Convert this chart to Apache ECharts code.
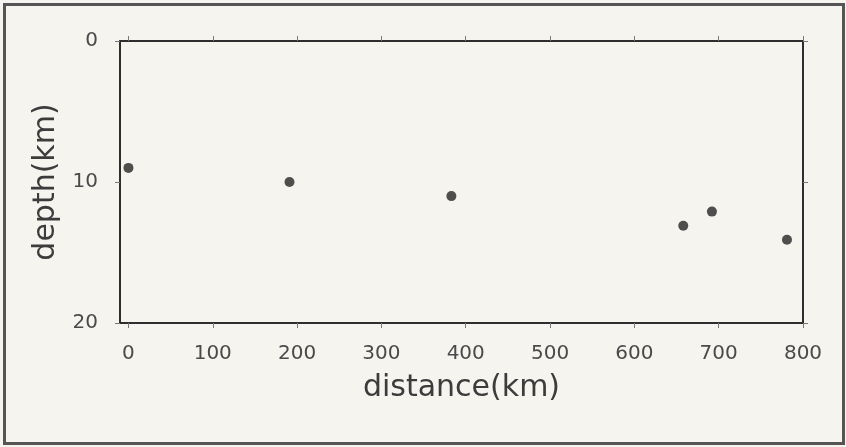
<!DOCTYPE html>
<html>
<head>
<meta charset="utf-8">
<script src="https://cdn.jsdelivr.net/npm/echarts@6/dist/echarts.min.js"></script>
<style>
html,body{margin:0;padding:0;background:#f6f4ef;}
#chart{width:846px;height:447px;}
</style>
</head>
<body>
<div id="chart"></div>
<script>
// Data
const distanceKm = [0, 191, 383, 658, 692, 781];
const depthKm = [9.0, 10.0, 11.0, 13.1, 12.1, 14.1];
const xTickValues = [0, 100, 200, 300, 400, 500, 600, 700, 800];
const yTickValues = [0, 10, 20];
const xAxisTitle = 'distance(km)';
const yAxisTitle = 'depth(km)';

const points = distanceKm.map((d, i) => [d, depthKm[i]]);

const FONT = 'DejaVu Sans';
const lineStyle = {color: '#2e2e2e', width: 2};
const tickStyle = {color: '#777', width: 1};

const chart = echarts.init(document.getElementById('chart'), null, {renderer: 'canvas'});
chart.setOption({
  backgroundColor: '#f6f4ef',
  animation: false,
  grid: {left: 120, right: 43, top: 41, bottom: 124, containLabel: false},
  graphic: [{
    type: 'rect',
    shape: {x: 4.5, y: 4.5, width: 839, height: 439},
    style: {fill: 'none', stroke: '#555', lineWidth: 3},
    silent: true
  }],
  xAxis: [{
    type: 'value', position: 'bottom', min: -10, max: 800,
    name: xAxisTitle, nameLocation: 'middle', nameGap: 50,
    nameTextStyle: {fontFamily: FONT, fontSize: 30, color: '#3c3c3c'},
    axisLine: {show: true, onZero: false, lineStyle: lineStyle},
    axisTick: {show: true, length: 5, customValues: xTickValues, lineStyle: tickStyle},
    axisLabel: {show: true, customValues: xTickValues, margin: 21, fontFamily: FONT, fontSize: 20, color: '#4a4a4a'},
    splitLine: {show: false}
  }, {
    type: 'value', position: 'top', min: -10, max: 800,
    axisLine: {show: true, onZero: false, lineStyle: lineStyle},
    axisTick: {show: true, length: 5, customValues: xTickValues, lineStyle: tickStyle},
    axisLabel: {show: false},
    splitLine: {show: false}
  }],
  yAxis: [{
    type: 'value', position: 'left', inverse: true, min: 0, max: 20, interval: 10,
    name: yAxisTitle, nameLocation: 'middle', nameGap: 57, nameRotate: 90,
    nameTextStyle: {fontFamily: FONT, fontSize: 30, color: '#3c3c3c'},
    axisLine: {show: true, onZero: false, lineStyle: lineStyle},
    axisTick: {show: true, length: 5, lineStyle: tickStyle},
    axisLabel: {show: true, margin: 22, fontFamily: FONT, fontSize: 20, color: '#4a4a4a'},
    splitLine: {show: false}
  }, {
    type: 'value', position: 'right', inverse: true, min: 0, max: 20, interval: 10,
    axisLine: {show: true, onZero: false, lineStyle: lineStyle},
    axisTick: {show: true, length: 5, lineStyle: tickStyle},
    axisLabel: {show: false},
    splitLine: {show: false}
  }],
  series: [{
    type: 'scatter',
    xAxisIndex: 0, yAxisIndex: 0,
    data: points,
    symbol: 'circle',
    symbolSize: 10,
    itemStyle: {color: '#242424'}
  }]
});
</script>
</body>
</html>
